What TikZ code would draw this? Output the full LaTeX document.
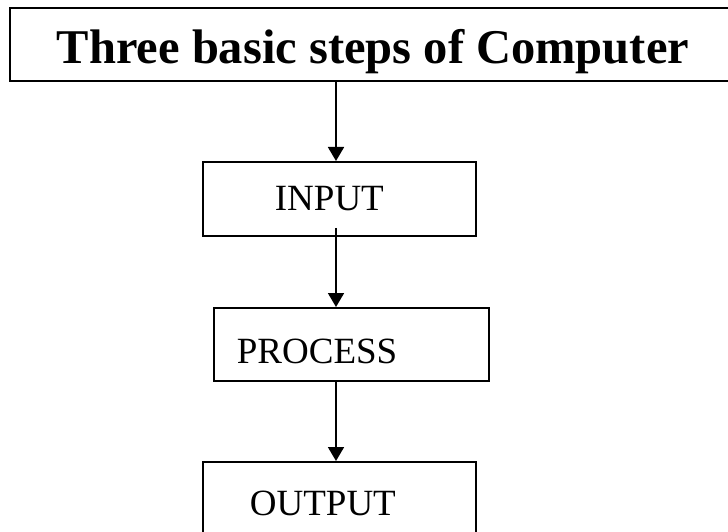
\documentclass[tikz,border=0pt]{standalone}
\usepackage{fontspec}
\setmainfont{Liberation Serif}
\usetikzlibrary{arrows.meta}
\tikzset{
  boxstyle/.style={draw, line width=1.8pt, rectangle, anchor=north west, align=flush left, inner ysep=0pt},
  titlestyle/.style={boxstyle, font=\fontsize{48.5}{50}\selectfont\bfseries},
  stepstyle/.style={boxstyle, font=\fontsize{37}{40}\selectfont},
  arr/.style={line width=1.8pt, -{Triangle[width=16pt,length=14pt]}}
}
\begin{document}
\begin{tikzpicture}[x=1pt,y=-1pt]
\useasboundingbox (0,0) rectangle (728,532);
\clip (0,0) rectangle (728,532);
\node[titlestyle, inner xsep=47pt, text width=637pt, text height=56pt, text depth=17pt] (title) at (9,7) {Three basic steps of Computer};
\node[stepstyle, inner xsep=72pt, text width=129pt, text height=49pt, text depth=25pt] (in) at (202,161) {INPUT};
\node[stepstyle, inner xsep=23pt, text width=229pt, text height=56pt, text depth=17pt] (proc) at (213,307) {PROCESS};
\node[stepstyle, inner xsep=47pt, text width=179pt, text height=54pt, text depth=20pt] (out) at (202,461) {OUTPUT};
\coordinate (ax) at (336,0);
\draw[arr] (title.south -| ax) -- (in.north -| ax);
\draw[arr] ([yshift=9pt]in.south -| ax) -- (proc.north -| ax);
\draw[arr] (proc.south -| ax) -- (out.north -| ax);
\end{tikzpicture}
\end{document}
